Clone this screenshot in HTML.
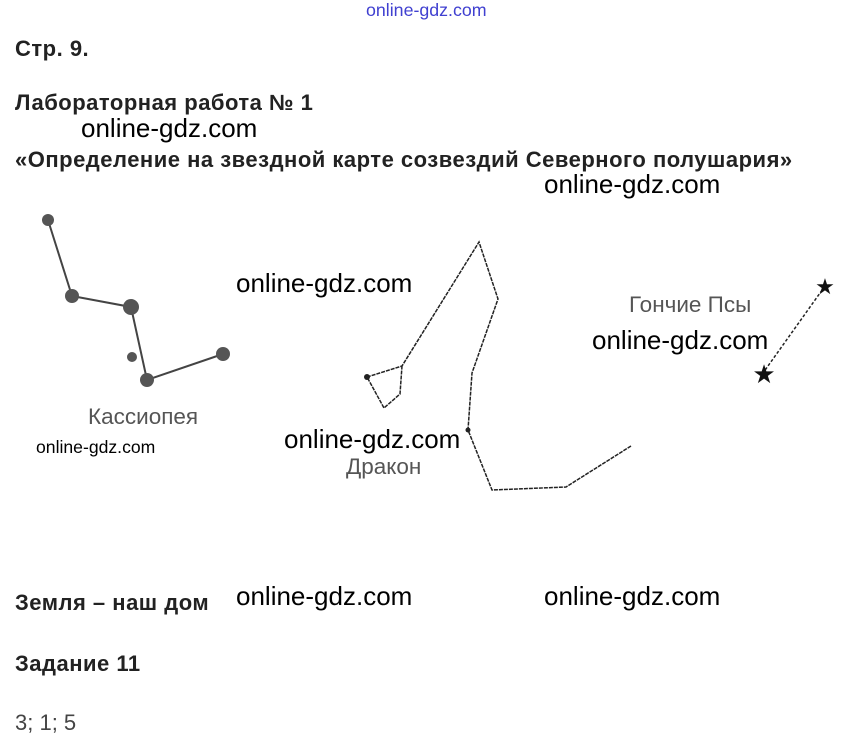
<!DOCTYPE html>
<html><head><meta charset="utf-8"><style>
body{margin:0;width:850px;height:754px;background:#fff;position:relative;font-family:"Liberation Sans",sans-serif;overflow:hidden}
.t{position:absolute;white-space:nowrap}
.b{font-weight:bold;font-size:22px;letter-spacing:0.5px;color:#222}
.w{font-size:26px;color:#000}
.l{font-size:22.5px;color:#555}
</style></head><body>
<div class="t" style="left:366px;top:0px;font-size:17.8px;color:#4040d0">online-gdz.com</div>
<div class="t b" style="left:15px;top:36px">Стр. 9.</div>
<div class="t b" style="left:15px;top:90px">Лабораторная работа № 1</div>
<div class="t w" style="left:81px;top:113px">online-gdz.com</div>
<div class="t b" style="left:15px;top:147px">«Определение на звездной карте созвездий Северного полушария»</div>
<div class="t w" style="left:544px;top:169px">online-gdz.com</div>
<div class="t w" style="left:236px;top:268px">online-gdz.com</div>
<div class="t l" style="left:629px;top:292px">Гончие Псы</div>
<div class="t w" style="left:592px;top:325px">online-gdz.com</div>
<div class="t l" style="left:88px;top:404px">Кассиопея</div>
<div class="t" style="left:36px;top:437px;font-size:17.6px">online-gdz.com</div>
<div class="t w" style="left:284px;top:424px">online-gdz.com</div>
<div class="t l" style="left:346px;top:454px">Дракон</div>
<div class="t b" style="left:15px;top:590px">Земля – наш дом</div>
<div class="t w" style="left:236px;top:581px">online-gdz.com</div>
<div class="t w" style="left:544px;top:581px">online-gdz.com</div>
<div class="t b" style="left:15px;top:651px">Задание 11</div>
<div class="t" style="left:15px;top:710px;font-size:22px;color:#444">3; 1; 5</div>
<svg width="850" height="754" style="position:absolute;left:0;top:0">
<g stroke="#444" stroke-width="2" fill="none">
<polyline points="48,220 72,296 131,307 147,380 223,354"/>
</g>
<g fill="#555">
<circle cx="48" cy="220" r="6"/><circle cx="72" cy="296" r="7"/><circle cx="131" cy="307" r="8"/>
<circle cx="147" cy="380" r="7"/><circle cx="223" cy="354" r="7"/><circle cx="132" cy="357" r="5"/>
</g>
<g stroke="#222" stroke-width="1.5" fill="none" stroke-dasharray="4,1">
<polyline points="631,446 566,487 492,490 468,430 472,373 498,299 479,242 402,366 367,377 384,408 400,394 402,366"/>
<line x1="825" y1="286" x2="763" y2="373" stroke-dasharray="3,2"/>
</g>
<circle cx="367" cy="377" r="3" fill="#222"/><circle cx="468" cy="430" r="2.5" fill="#222"/>
<text x="825" y="294" font-size="22" text-anchor="middle" fill="#111">★</text>
<text x="764" y="383" font-size="26" text-anchor="middle" fill="#111">★</text>
</svg>
</body></html>
